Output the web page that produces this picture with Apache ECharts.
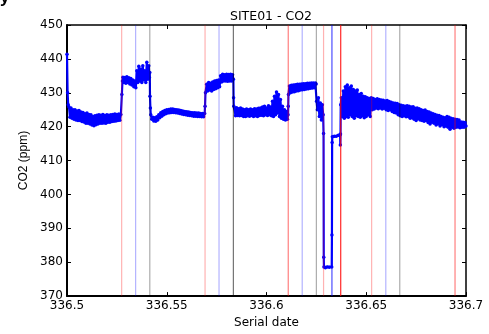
<!DOCTYPE html>
<html>
<head>
<meta charset="utf-8">
<script src="https://cdn.jsdelivr.net/npm/echarts@6/dist/echarts.min.js"></script>
<style>
html,body{margin:0;padding:0;background:#fff;}
#chart{width:489px;height:334px;}
</style>
</head>
<body>
<div id="chart"></div>
<script>
// ---- data ----
var xTicks = [336.5, 336.55, 336.6, 336.65, 336.7];
var yTicks = [370, 380, 390, 400, 410, 420, 430, 440, 450];

var serialDate = [
336.5000,336.5003,336.5006,
336.5010,336.5015,336.5020,336.5025,336.5030,336.5035,336.5040,336.5045,336.5050,336.5055,
336.5060,336.5065,336.5070,336.5075,336.5080,336.5085,336.5090,336.5095,336.5100,336.5105,
336.5110,336.5115,336.5120,336.5125,336.5130,336.5135,336.5140,336.5145,336.5150,336.5155,
336.5160,336.5165,336.5170,336.5175,336.5180,336.5185,336.5190,336.5195,336.5200,336.5205,
336.5210,336.5215,336.5220,336.5225,336.5230,336.5235,336.5240,336.5245,336.5250,336.5255,
336.5260,336.5265,336.5270,
336.5275,336.5278,336.5280,336.5285,336.5290,336.5295,336.5300,336.5305,336.5310,336.5315,
336.5320,336.5325,336.5330,336.5335,336.5340,336.5345,336.5350,336.5355,336.5360,336.5365,
336.5370,336.5375,336.5380,336.5385,336.5390,336.5395,336.5400,336.5405,336.5410,336.5413,
336.5415,336.5416,336.5418,
336.5420,336.5425,336.5430,336.5435,336.5440,336.5445,336.5450,336.5455,336.5460,336.5465,
336.5470,336.5475,336.5480,336.5485,336.5490,336.5495,336.5500,336.5505,336.5510,336.5515,
336.5520,336.5525,336.5530,336.5535,336.5540,336.5545,336.5550,336.5555,336.5560,336.5565,
336.5570,336.5575,336.5580,336.5585,336.5590,336.5595,336.5600,336.5605,336.5610,336.5615,
336.5620,336.5625,336.5630,336.5635,336.5640,336.5645,336.5650,336.5655,336.5660,336.5665,
336.5670,336.5675,336.5680,336.5685,336.5690,
336.5692,336.5694,336.5700,336.5705,336.5710,336.5715,336.5720,336.5725,336.5730,336.5735,
336.5740,336.5745,336.5750,336.5755,336.5760,336.5765,336.5770,336.5775,336.5780,336.5785,
336.5790,336.5795,336.5800,336.5805,336.5810,336.5815,336.5820,336.5825,336.5830,336.5834,
336.5835,336.5836,
336.5840,336.5845,336.5850,336.5855,336.5860,336.5865,336.5870,336.5875,336.5880,336.5885,
336.5890,336.5895,336.5900,336.5905,336.5910,336.5915,336.5920,336.5925,336.5930,336.5935,
336.5940,336.5945,336.5950,336.5955,336.5960,336.5965,336.5970,336.5975,336.5980,336.5985,
336.5990,336.5995,336.6000,336.6005,336.6010,336.6015,336.6020,336.6025,336.6030,336.6035,
336.6040,336.6045,336.6050,336.6055,336.6060,336.6065,336.6070,336.6075,336.6080,336.6085,
336.6090,336.6095,336.6100,336.6105,336.6108,
336.6109,336.6110,336.6115,336.6120,336.6125,336.6130,336.6135,336.6140,336.6145,336.6150,
336.6155,336.6160,336.6165,336.6170,336.6175,336.6180,336.6185,336.6190,336.6195,336.6200,
336.6205,336.6210,336.6215,336.6220,336.6225,336.6230,336.6235,336.6240,336.6245,336.6249,
336.6251,336.6255,336.6260,336.6265,336.6270,336.6275,336.6280,336.6284,336.6286,336.6287,
336.6288,336.6295,336.6305,336.6315,336.6327,336.6328,336.6329,336.6330,336.6340,336.6350,
336.6360,336.6369,336.6370,336.6371,336.6372,
336.6375,336.6380,336.6385,336.6390,336.6395,336.6400,336.6405,336.6410,336.6415,336.6420,
336.6425,336.6430,336.6435,336.6440,336.6445,336.6450,336.6455,336.6460,336.6465,336.6470,
336.6475,336.6480,336.6485,336.6490,336.6495,336.6500,336.6505,336.6510,336.6515,336.6520,
336.6525,
336.6530,336.6535,336.6540,336.6545,336.6550,336.6555,336.6560,336.6565,336.6570,336.6575,
336.6580,336.6585,336.6590,336.6595,336.6600,336.6605,336.6610,336.6615,336.6620,336.6625,
336.6630,336.6635,336.6640,336.6645,336.6650,336.6655,336.6660,336.6665,
336.6670,336.6675,336.6680,336.6685,336.6690,336.6695,336.6700,336.6705,336.6710,336.6715,
336.6720,336.6725,336.6730,336.6735,336.6740,336.6745,336.6750,336.6755,336.6760,336.6765,
336.6770,336.6775,336.6780,336.6785,336.6790,336.6795,336.6800,336.6805,336.6810,336.6815,
336.6820,336.6825,336.6830,336.6835,336.6840,336.6845,336.6850,336.6855,336.6860,336.6865,
336.6870,336.6875,336.6880,336.6885,336.6890,336.6895,336.6900,336.6905,336.6910,336.6915,
336.6920,336.6925,336.6930,336.6935,336.6940,336.6945,336.6950,336.6955,336.6960,336.6965,
336.6970,336.6975,336.6980,336.6985,336.6990,336.6995,336.7000
];

var co2 = [
441.4,430.0,426.5,
425.8,422.8,425.5,422.5,425.0,422.2,425.0,422.0,424.6,421.8,
424.8,421.8,424.3,421.5,424.2,421.4,423.8,421.0,424.0,421.0,
423.6,420.8,423.5,420.5,423.0,420.3,423.2,420.6,423.4,420.8,
423.5,421.0,423.4,421.0,423.6,421.1,423.3,421.0,423.5,421.3,
423.4,421.3,423.5,421.5,423.6,421.6,423.7,421.7,423.6,421.8,
423.7,421.9,423.6,
429.5,433.5,434.6,433.0,434.5,432.8,434.7,433.0,434.4,432.6,
434.2,432.3,433.8,431.8,433.5,431.5,436.5,433.0,437.8,433.5,
437.0,433.0,438.0,433.8,436.5,433.0,439.0,434.0,438.0,434.5,
436.0,429.0,425.5,
423.5,422.2,422.8,421.7,422.6,421.6,422.9,422.0,423.5,422.6,
424.1,423.1,424.5,423.5,424.8,423.8,425.0,424.0,425.1,424.1,
425.2,424.2,425.2,424.2,425.1,424.1,425.0,424.0,424.9,423.9,
424.8,423.7,424.6,423.6,424.5,423.5,424.4,423.4,424.3,423.3,
424.2,423.2,424.1,423.1,424.1,423.1,424.0,423.0,424.0,423.0,
423.9,422.9,423.9,422.9,423.9,
426.0,430.0,432.5,430.5,433.0,430.8,432.8,430.5,433.2,431.0,
433.5,431.2,433.6,431.5,433.8,431.8,435.0,433.2,435.5,433.5,
435.3,433.5,435.5,433.4,435.4,433.5,435.5,433.5,435.3,434.0,
428.5,426.0,
425.5,423.2,425.6,423.3,425.3,423.2,425.5,423.3,425.2,423.0,
425.0,423.0,425.2,423.2,425.0,423.1,425.2,423.3,425.0,423.0,
425.3,423.2,425.2,423.0,425.4,423.3,425.5,423.4,425.8,423.2,
426.0,423.5,425.5,423.3,426.2,423.5,425.8,423.2,427.5,423.0,
429.0,423.5,430.2,424.0,429.5,423.0,428.0,422.5,426.0,422.2,
425.0,422.0,424.5,422.2,423.5,
426.0,429.5,432.0,430.0,432.2,430.2,432.3,430.3,432.4,430.5,
432.5,430.6,432.5,430.8,432.6,430.9,432.7,431.0,432.7,431.1,
432.8,431.2,432.8,431.3,432.9,431.4,432.9,431.5,432.9,432.6,
427.5,425.0,428.5,423.0,427.0,422.0,426.5,423.5,418.0,381.5,
378.6,378.4,378.6,378.5,378.6,388.0,415.3,417.0,417.2,417.2,
417.5,417.6,414.6,417.8,426.5,
428.5,423.0,430.5,422.5,431.8,423.0,432.3,422.8,431.5,423.5,
432.0,423.0,431.0,422.5,430.5,423.2,430.8,423.0,429.5,422.8,
429.8,423.2,429.0,422.6,428.8,423.0,428.5,423.5,428.3,423.0,
428.5,
425.0,428.3,425.2,428.0,425.5,428.2,425.3,428.0,425.5,427.9,
425.2,427.8,425.4,427.6,425.0,427.7,424.8,427.4,425.0,427.2,
424.5,427.0,424.2,426.9,424.0,426.8,423.5,426.5,
423.2,426.3,423.0,426.2,423.2,426.0,422.9,426.2,423.0,426.0,
422.5,425.8,422.6,425.9,422.2,425.4,421.8,425.5,422.3,425.3,
422.0,425.0,421.8,424.8,421.6,424.9,421.8,424.5,421.2,424.3,
420.8,424.0,421.3,423.8,421.0,423.6,420.5,423.4,420.8,423.3,
420.2,423.0,420.6,422.8,420.0,422.6,420.2,423.0,419.8,422.8,
419.2,422.5,419.8,422.3,419.5,422.2,419.8,422.1,419.9,422.0,
419.7,421.4,419.8,421.3,419.8,421.2,420.2
];

// event marker lines
var eventDates = [336.5274, 336.5344, 336.5415, 336.5692, 336.5762, 336.5834, 336.6109, 336.6179,
                  336.6250, 336.6286, 336.6328, 336.6372, 336.6527, 336.6598, 336.6668, 336.6945];
var eventKinds = ['r1','b1','g1','r1','b1','g2','r2','b1','g1','r1','b2','r3','r1','b1','g1','r2'];

// ---- styles ----
var kindColor = {
  r1: 'rgba(255,0,0,0.3)',
  r2: 'rgba(255,0,0,0.5)',
  r3: 'rgba(255,0,0,0.85)',
  b1: 'rgba(0,0,255,0.3)',
  b2: 'rgba(0,0,255,0.7)',
  g1: 'rgba(0,0,0,0.33)',
  g2: 'rgba(0,0,0,0.55)'
};

var FONT = 'DejaVu Sans, sans-serif';
var FONT2 = 'Liberation Sans, Arial, sans-serif';
var chart = echarts.init(document.getElementById('chart'), null, {renderer: 'canvas'});

var points = serialDate.map(function (d, i) { return [d, co2[i]]; });
var eventData = eventDates.map(function (d, i) { return [d, eventKinds[i]]; });

chart.setOption({
  animation: false,
  backgroundColor: '#fff',
  title: {
    text: 'SITE01 - CO2',
    left: 266, top: 5, textAlign: 'center',
    textStyle: { fontFamily: FONT, fontSize: 12.5, fontWeight: 'normal', color: '#000' }
  },
  graphic: [{
    type: 'text', left: 0, top: -10,
    style: { text: 'y', fontFamily: FONT2, fontSize: 17, fontWeight: 'bold', fill: '#000' }
  }],
  grid: { left: 67, right: 23, top: 25, bottom: 31, containLabel: false },
  xAxis: [
    {
      type: 'value', position: 'bottom', min: 336.5, max: 336.7,
      splitLine: { show: false },
      axisLine: { show: true, lineStyle: { color: '#000', width: 2 } },
      axisTick: { show: true, inside: true, length: 4, customValues: xTicks, lineStyle: { color: '#000', width: 1 } },
      axisLabel: { show: true, customValues: xTicks, color: '#000', fontFamily: FONT, fontSize: 12, margin: 4,
                   formatter: function (v) { return String(v); } },
      name: 'Serial date', nameLocation: 'middle', nameGap: 19,
      nameTextStyle: { fontFamily: FONT, fontSize: 12, color: '#000' }
    },
    {
      type: 'value', position: 'top', min: 336.5, max: 336.7,
      splitLine: { show: false },
      axisLine: { show: true, lineStyle: { color: '#000', width: 1.5 } },
      axisTick: { show: true, inside: true, length: 4, customValues: xTicks, lineStyle: { color: '#000', width: 1 } },
      axisLabel: { show: false }
    }
  ],
  yAxis: [
    {
      type: 'value', position: 'left', min: 370, max: 450,
      splitLine: { show: false },
      axisLine: { show: true, lineStyle: { color: '#000', width: 2 } },
      axisTick: { show: true, inside: true, length: 4, customValues: yTicks, lineStyle: { color: '#000', width: 1 } },
      axisLabel: { show: true, customValues: yTicks, color: '#000', fontFamily: FONT, fontSize: 12, margin: 4 },
      name: 'CO2 (ppm)', nameLocation: 'middle', nameGap: 27, nameRotate: 90,
      nameTextStyle: { fontFamily: FONT2, fontSize: 12, color: '#000' }
    },
    {
      type: 'value', position: 'right', min: 370, max: 450,
      splitLine: { show: false },
      axisLine: { show: true, lineStyle: { color: '#000', width: 1.5 } },
      axisTick: { show: true, inside: true, length: 4, customValues: yTicks, lineStyle: { color: '#000', width: 1 } },
      axisLabel: { show: false }
    }
  ],
  series: [
    {
      name: 'CO2', type: 'line', xAxisIndex: 0, yAxisIndex: 0, z: 3,
      data: points,
      showSymbol: true, showAllSymbol: true, symbol: 'circle', symbolSize: 3.5,
      itemStyle: { color: '#0000ff' },
      lineStyle: { color: '#0000ff', width: 2.2 },
      silent: true
    },
    {
      name: 'events', type: 'custom', xAxisIndex: 0, yAxisIndex: 0, z: 5,
      silent: true,
      data: eventData,
      renderItem: function (params, api) {
        var top = api.coord([api.value(0), 450]);
        var bot = api.coord([api.value(0), 370]);
        var kind = eventKinds[params.dataIndex];
        return {
          type: 'line',
          shape: { x1: top[0], y1: top[1], x2: bot[0], y2: bot[1] },
          style: { stroke: kindColor[kind], lineWidth: 1.2 }
        };
      }
    }
  ]
});
</script>
</body>
</html>
